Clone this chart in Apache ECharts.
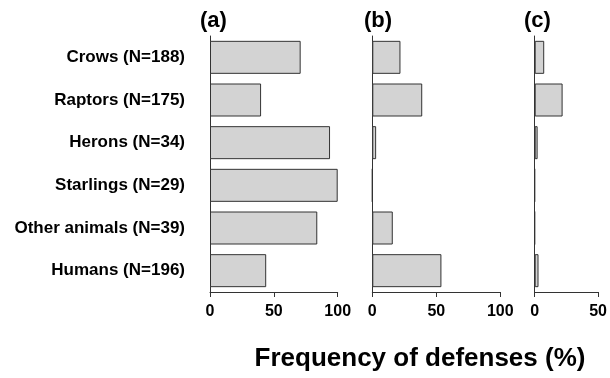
<!DOCTYPE html>
<html>
<head>
<meta charset="utf-8">
<script src="https://cdn.jsdelivr.net/npm/echarts@6/dist/echarts.min.js"></script>
<style>
html,body{margin:0;padding:0;background:#fff;}
#chart{width:610px;height:378px;}
</style>
</head>
<body>
<div id="chart"></div>
<script>
var categories = ['Crows (N=188)', 'Raptors (N=175)', 'Herons (N=34)', 'Starlings (N=29)', 'Other animals (N=39)', 'Humans (N=196)'];
var panelA = [71, 40, 94, 100, 84, 44];
var panelB = [22, 39, 3, 0, 16, 54];
var panelC = [7.5, 22, 2.3, 0, 0, 3];
var panelLabels = ['(a)', '(b)', '(c)'];
var panelMax = [100, 100, 50];
var axisTitle = 'Frequency of defenses (%)';

var FONT = 'Liberation Sans, Arial, sans-serif';
var LINE = '#333333';
var grids = [
  {left: 210, top: 36, width: 127.7, height: 256},
  {left: 372.3, top: 36, width: 128, height: 256},
  {left: 534.7, top: 36, width: 64, height: 256}
];
var seriesData = [panelA, panelB, panelC];

var option = {
  animation: false,
  backgroundColor: '#ffffff',
  title: [
    {text: panelLabels[0], left: 195, top: 5, textStyle: {fontFamily: FONT, fontWeight: 'bold', fontSize: 22, color: '#000'}},
    {text: panelLabels[1], left: 359, top: 5, textStyle: {fontFamily: FONT, fontWeight: 'bold', fontSize: 22, color: '#000'}},
    {text: panelLabels[2], left: 519, top: 5, textStyle: {fontFamily: FONT, fontWeight: 'bold', fontSize: 22, color: '#000'}},
    {text: axisTitle, left: 415, top: 341, textAlign: 'center', textStyle: {fontFamily: FONT, fontWeight: 'bold', fontSize: 26, color: '#000'}}
  ],
  grid: grids,
  xAxis: grids.map(function (g, i) {
    return {
      type: 'value', gridIndex: i, min: 0, max: panelMax[i], interval: 50,
      axisLine: {show: true, lineStyle: {color: LINE, width: 1}},
      axisTick: {show: true, length: 5, lineStyle: {color: LINE}},
      splitLine: {show: false},
      axisLabel: {margin: 12, fontFamily: FONT, fontWeight: 'bold', fontSize: 16, color: '#000'}
    };
  }),
  yAxis: grids.map(function (g, i) {
    return {
      type: 'category', gridIndex: i, data: categories, inverse: true,
      axisLine: {show: true, lineStyle: {color: LINE, width: 1}},
      axisTick: {show: false},
      axisLabel: {show: i === 0, margin: 25, fontFamily: FONT, fontWeight: 'bold', fontSize: 17, color: '#000'}
    };
  }),
  series: seriesData.map(function (d, i) {
    return {
      type: 'bar', xAxisIndex: i, yAxisIndex: i, data: d, barWidth: 33,
      itemStyle: {color: '#d3d3d3', borderColor: LINE, borderWidth: 1}
    };
  })
};
var chart = echarts.init(document.getElementById('chart'), null, {renderer: 'canvas'});
chart.setOption(option);
</script>
</body>
</html>
